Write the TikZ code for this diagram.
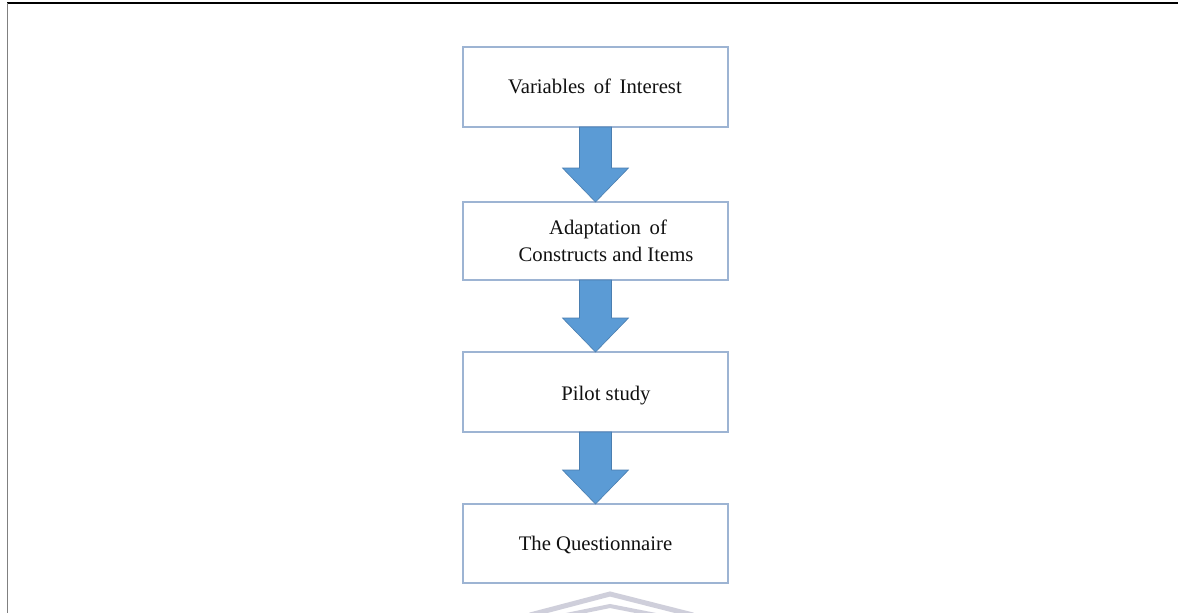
\documentclass[tikz,border=0pt]{standalone}
\usepackage{fontspec}
\setmainfont{Liberation Serif}
\usetikzlibrary{calc}
\definecolor{boxline}{HTML}{9DB4D3}
\definecolor{arrowfill}{HTML}{5B9BD5}
\definecolor{arrowline}{HTML}{4A7EB0}
\definecolor{markgray}{HTML}{C4C4D2}
\definecolor{inkgray}{HTML}{111111}

% block arrow from the bottom of one box to the top of the next
\newcommand\blockarrow[2]{%
  \draw[flowarrow]
    ($(#1.south)+(-16,0)$) -- ($(#1.south)+(16,0)$) --
    ($(#2.north)+(16,-34)$) -- ($(#2.north)+(33,-34)$) --
    (#2.north) --
    ($(#2.north)+(-33,-34)$) -- ($(#2.north)+(-16,-34)$) -- cycle;}

\begin{document}
\begin{tikzpicture}[x=1pt,y=-1pt,
  stepbox/.style={draw=boxline, line width=1.3pt, fill=white,
    minimum width=265pt, inner sep=0pt, outer sep=0pt},
  boxtext/.style={anchor=base, inner sep=0pt, text=inkgray,
    font=\fontsize{20.7}{28}\selectfont},
  flowarrow/.style={fill=arrowfill, draw=arrowline, line width=0.6pt,
    line join=miter}]
\useasboundingbox (0,0) rectangle (1178,613);
\fill[white] (0,0) rectangle (1178,613);

% page frame
\draw[black, line width=1.2pt] (7,3) -- (1178,3);
\draw[gray, line width=1.6pt] (7.6,3) -- (7.6,613);

% faint mark at the foot of the page
\draw[markgray, line width=5pt, opacity=0.8] (530,615) -- (610,594) -- (693,615);
\draw[markgray, line width=4pt, opacity=0.8] (566,615) -- (610,606) -- (656,615);

% boxes
\node[stepbox, minimum height=80pt] (b1) at (595.5,87) {};
\node[stepbox, minimum height=78pt] (b2) at (595.5,241) {};
\node[stepbox, minimum height=80pt] (b3) at (595.5,392) {};
\node[stepbox, minimum height=79pt] (b4) at (595.5,543.5) {};

% box texts
\node[boxtext] (t1) at (595,93) {Variables\, of\, Interest};
\node[boxtext] (t2a) at (608,234) {Adaptation\, of};
\node[boxtext] (t2b) at (606,261) {Constructs and Items};
\node[boxtext] (t3) at (606,400) {Pilot study};
\node[boxtext] (t4) at (595.5,550) {The Questionnaire};

% arrows
\blockarrow{b1}{b2}
\blockarrow{b2}{b3}
\blockarrow{b3}{b4}
\end{tikzpicture}
\end{document}
